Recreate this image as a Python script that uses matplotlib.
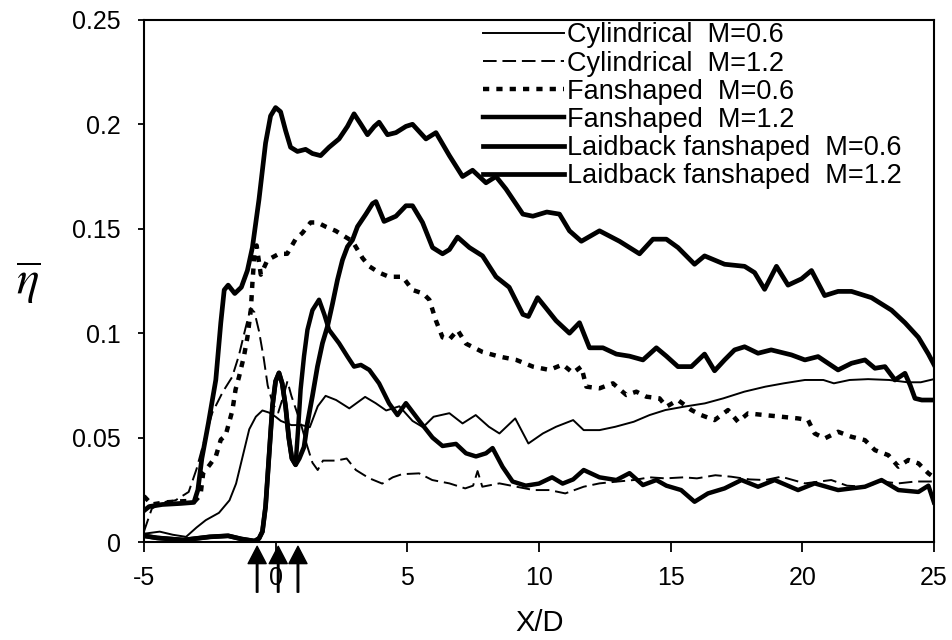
import matplotlib

matplotlib.use("Agg")
import matplotlib.pyplot as plt
import matplotlib.transforms as mtransforms

# (X/D, eta) pairs
cyl_06 = [(-5, 0.004), (-4.4, 0.005), (-3.9, 0.0035), (-3.4, 0.0025), (-3.0, 0.007),
          (-2.65, 0.0105), (-2.15, 0.014), (-1.75, 0.020), (-1.5, 0.028), (-1.25, 0.041),
          (-1.0, 0.054), (-0.75, 0.060), (-0.5, 0.063), (-0.25, 0.062), (0.0, 0.060),
          (0.2, 0.058), (0.6, 0.056), (1.0, 0.056), (1.3, 0.055), (1.6, 0.065),
          (1.9, 0.070), (2.3, 0.068), (2.8, 0.064), (3.4, 0.0695), (3.8, 0.0665),
          (4.2, 0.063), (4.7, 0.065), (5.2, 0.058), (5.6, 0.055), (6.0, 0.060),
          (6.6, 0.0617), (7.1, 0.0568), (7.6, 0.0608), (8.1, 0.0552), (8.5, 0.052),
          (9.1, 0.0592), (9.6, 0.0472), (10.15, 0.052), (10.65, 0.0552), (11.3, 0.0584),
          (11.7, 0.0536), (12.3, 0.0536), (12.9, 0.0552), (13.6, 0.0576), (14.2, 0.0608),
          (14.8, 0.0632), (15.5, 0.0648), (16.3, 0.0664), (17.0, 0.0688), (17.8, 0.072),
          (18.6, 0.0744), (19.3, 0.076), (20.1, 0.0776), (20.8, 0.0776), (21.2, 0.076),
          (21.8, 0.0776), (22.5, 0.078), (23.3, 0.0776), (24.0, 0.0765), (24.5, 0.0765),
          (25.0, 0.078)]

cyl_12 = [(-5, 0.005), (-4.7, 0.016), (-4.3, 0.019), (-3.8, 0.020), (-3.3, 0.024),
          (-3.0, 0.035), (-2.7, 0.049), (-2.4, 0.062), (-2.0, 0.072), (-1.65, 0.079),
          (-1.4, 0.089), (-1.15, 0.102), (-0.95, 0.112), (-0.8, 0.110), (-0.63, 0.101),
          (-0.45, 0.088), (-0.3, 0.075), (-0.1, 0.066), (0.1, 0.062), (0.3, 0.070),
          (0.45, 0.077), (0.6, 0.070), (0.95, 0.057), (1.2, 0.046), (1.4, 0.038),
          (1.6, 0.0345), (1.8, 0.039), (2.3, 0.039), (2.7, 0.040), (3.05, 0.0345),
          (3.55, 0.0306), (4.05, 0.028), (4.45, 0.031), (4.8, 0.0325), (5.45, 0.0329),
          (5.95, 0.0297), (6.6, 0.0281), (7.2, 0.0257), (7.5, 0.027), (7.67, 0.034),
          (7.85, 0.0265), (8.5, 0.0281), (9.15, 0.0265), (9.8, 0.0249), (10.4, 0.0249),
          (11.0, 0.0233), (11.7, 0.0265), (12.3, 0.0281), (13.0, 0.029), (13.6, 0.0297),
          (14.2, 0.031), (14.8, 0.0305), (15.5, 0.031), (16.0, 0.0305), (16.7, 0.032),
          (17.3, 0.0313), (18.0, 0.030), (18.6, 0.0297), (19.2, 0.0313), (20.1, 0.0281),
          (21.1, 0.0297), (21.7, 0.027), (22.4, 0.0265), (23.0, 0.029), (23.65, 0.0281),
          (24.3, 0.029), (25.0, 0.029)]

fan_06 = [(-5, 0.022), (-4.7, 0.018), (-4.2, 0.019), (-3.6, 0.0195), (-3.05, 0.0198),
          (-2.85, 0.0225), (-2.75, 0.033), (-2.5, 0.037), (-2.27, 0.041), (-2.08, 0.049),
          (-1.9, 0.051), (-1.77, 0.057), (-1.64, 0.063), (-1.52, 0.073), (-1.39, 0.079),
          (-1.2, 0.089), (-1.07, 0.098), (-0.94, 0.111), (-0.88, 0.124), (-0.8, 0.138),
          (-0.72, 0.142), (-0.56, 0.128), (-0.31, 0.135), (0.13, 0.138), (0.44, 0.138),
          (0.76, 0.145), (1.02, 0.148), (1.33, 0.153), (1.59, 0.153), (1.9, 0.151),
          (2.28, 0.149), (2.66, 0.146), (2.92, 0.144), (3.3, 0.136), (3.56, 0.132),
          (3.93, 0.129), (4.31, 0.127), (4.82, 0.127), (5.2, 0.1207), (5.6, 0.119),
          (5.84, 0.116), (6.09, 0.106), (6.34, 0.098), (6.6, 0.097), (6.91, 0.1015),
          (7.23, 0.095), (7.86, 0.091), (8.5, 0.0888), (9.14, 0.0872), (9.77, 0.084),
          (10.4, 0.0824), (10.9, 0.085), (11.29, 0.081), (11.61, 0.084), (11.8, 0.0744),
          (12.3, 0.0736), (12.81, 0.076), (13.32, 0.0704), (13.7, 0.072), (14.08, 0.0696),
          (14.58, 0.0688), (14.84, 0.0648), (15.28, 0.068), (15.79, 0.0632), (16.16, 0.0608),
          (16.67, 0.0584), (17.18, 0.0632), (17.56, 0.0576), (17.94, 0.0616), (18.57, 0.0608),
          (19.21, 0.060), (19.84, 0.0592), (20.22, 0.0584), (20.47, 0.052), (20.85, 0.0496),
          (21.36, 0.0528), (21.87, 0.0504), (22.38, 0.0488), (22.76, 0.044), (23.27, 0.0416),
          (23.65, 0.0361), (24.03, 0.0393), (24.41, 0.0377), (24.79, 0.0329), (25.0, 0.031)]

fan_12 = [(-5, 0.003), (-4.5, 0.002), (-4.0, 0.0015), (-3.5, 0.001), (-2.5, 0.0025),
          (-1.8, 0.003), (-1.3, 0.0015), (-0.8, 0.0005), (-0.63, 0.0017), (-0.5, 0.005),
          (-0.38, 0.017), (-0.25, 0.041), (-0.12, 0.065), (0.0, 0.077), (0.13, 0.081),
          (0.25, 0.076), (0.38, 0.065), (0.5, 0.050), (0.62, 0.040), (0.76, 0.037),
          (0.86, 0.055), (0.95, 0.073), (1.08, 0.089), (1.21, 0.1016), (1.4, 0.111),
          (1.65, 0.116), (1.85, 0.109), (2.03, 0.1016), (2.41, 0.0952), (2.73, 0.0888),
          (2.98, 0.084), (3.24, 0.0848), (3.56, 0.0824), (3.93, 0.076), (4.31, 0.0664),
          (4.63, 0.0608), (4.95, 0.0665), (5.46, 0.058), (5.96, 0.050), (6.34, 0.046),
          (6.85, 0.047), (7.23, 0.0425), (7.61, 0.041), (7.99, 0.0425), (8.24, 0.045),
          (8.62, 0.036), (9.0, 0.029), (9.5, 0.027), (10.0, 0.028), (10.5, 0.031),
          (10.9, 0.028), (11.3, 0.030), (11.7, 0.0345), (12.3, 0.031), (12.94, 0.0297),
          (13.44, 0.033), (13.95, 0.0273), (14.46, 0.0297), (14.84, 0.027), (15.4, 0.0249),
          (15.91, 0.0193), (16.42, 0.0233), (17.05, 0.0257), (17.69, 0.0297), (18.32, 0.0265),
          (18.95, 0.0297), (19.84, 0.0249), (20.47, 0.0281), (21.36, 0.0249), (22.38, 0.0265),
          (23.01, 0.0297), (23.65, 0.0249), (24.41, 0.024), (24.79, 0.027), (25.0, 0.019)]

laid_06 = [(-5, 0.015), (-4.8, 0.017), (-4.3, 0.018), (-3.6, 0.0185), (-3.1, 0.019),
           (-2.95, 0.025), (-2.8, 0.040), (-2.55, 0.057), (-2.27, 0.0776), (-2.08, 0.105),
           (-1.95, 0.1207), (-1.8, 0.123), (-1.55, 0.119), (-1.3, 0.122), (-1.07, 0.130),
           (-0.88, 0.141), (-0.63, 0.164), (-0.38, 0.191), (-0.19, 0.204), (0.0, 0.208),
           (0.19, 0.206), (0.38, 0.197), (0.57, 0.189), (0.83, 0.187), (1.14, 0.188),
           (1.4, 0.186), (1.71, 0.185), (2.03, 0.189), (2.41, 0.193), (2.73, 0.199),
           (2.98, 0.205), (3.24, 0.200), (3.49, 0.195), (3.75, 0.199), (3.93, 0.201),
           (4.25, 0.195), (4.57, 0.196), (4.95, 0.199), (5.2, 0.200), (5.71, 0.193),
           (6.09, 0.196), (6.6, 0.185), (7.1, 0.175), (7.48, 0.178), (7.99, 0.172),
           (8.37, 0.175), (8.75, 0.169), (9.39, 0.157), (9.77, 0.156), (10.3, 0.158),
           (10.78, 0.157), (11.16, 0.149), (11.61, 0.144), (12.3, 0.149), (13.06, 0.144),
           (13.82, 0.138), (14.33, 0.145), (14.84, 0.145), (15.28, 0.141), (15.91, 0.133),
           (16.29, 0.137), (17.05, 0.133), (17.81, 0.132), (18.19, 0.129), (18.57, 0.121),
           (19.02, 0.132), (19.46, 0.123), (19.97, 0.126), (20.35, 0.130), (20.85, 0.118),
           (21.36, 0.120), (21.87, 0.120), (22.63, 0.117), (23.39, 0.111), (23.9, 0.105),
           (24.41, 0.098), (24.79, 0.090), (25.0, 0.085)]

laid_12 = [(-5, 0.003), (-4.5, 0.002), (-4.0, 0.0015), (-3.5, 0.001), (-2.5, 0.0025),
           (-1.8, 0.003), (-1.3, 0.0015), (-0.8, 0.0005), (-0.63, 0.0017), (-0.5, 0.005),
           (-0.38, 0.017), (-0.25, 0.041), (-0.12, 0.065), (0.0, 0.077), (0.13, 0.081),
           (0.25, 0.076), (0.38, 0.065), (0.5, 0.050), (0.62, 0.040), (0.76, 0.037),
           (0.9, 0.040), (1.08, 0.0455), (1.21, 0.057), (1.4, 0.070), (1.59, 0.084),
           (1.78, 0.0952), (1.97, 0.1032), (2.16, 0.114), (2.35, 0.1255), (2.54, 0.135),
           (2.73, 0.1414), (2.92, 0.1446), (3.11, 0.151), (3.43, 0.157), (3.68, 0.162),
           (3.81, 0.163), (4.12, 0.1535), (4.57, 0.156), (4.95, 0.161), (5.2, 0.161),
           (5.58, 0.153), (5.96, 0.141), (6.34, 0.138), (6.6, 0.140), (6.91, 0.146),
           (7.36, 0.141), (7.86, 0.137), (8.37, 0.127), (8.87, 0.122), (9.39, 0.109),
           (9.6, 0.108), (9.95, 0.117), (10.27, 0.112), (10.65, 0.106), (11.16, 0.100),
           (11.54, 0.105), (11.92, 0.093), (12.43, 0.093), (12.94, 0.090), (13.44, 0.089),
           (13.95, 0.0872), (14.46, 0.093), (14.84, 0.089), (15.28, 0.084), (15.79, 0.084),
           (16.29, 0.090), (16.67, 0.082), (17.05, 0.0872), (17.43, 0.092), (17.81, 0.0935),
           (18.32, 0.0904), (18.82, 0.092), (19.59, 0.0896), (20.1, 0.0872), (20.6, 0.0888),
           (20.98, 0.0856), (21.36, 0.0824), (21.87, 0.0856), (22.38, 0.0872), (22.76, 0.0832),
           (23.14, 0.084), (23.52, 0.0776), (23.9, 0.0808), (24.1, 0.075), (24.28, 0.0688),
           (24.54, 0.068), (25.0, 0.068)]

labels = ["Cylindrical  M=0.6", "Cylindrical  M=1.2", "Fanshaped  M=0.6",
          "Fanshaped  M=1.2", "Laidback fanshaped  M=0.6", "Laidback fanshaped  M=1.2"]

# hole positions marked with arrows under the axis
hole_marks = [-0.7, 0.1, 0.85]

x_ticks = [-5, 0, 5, 10, 15, 20, 25]
y_ticks = [0, 0.05, 0.1, 0.15, 0.2, 0.25]
y_tick_labels = ["0", "0.05", "0.1", "0.15", "0.2", "0.25"]


def main():
    plt.rcParams["font.family"] = ["Liberation Sans", "DejaVu Sans"]
    plt.rcParams["mathtext.fontset"] = "stix"

    fig = plt.figure(figsize=(9.53, 6.4), dpi=100)
    ax = fig.add_axes([0.151, 0.153, 0.829, 0.816])

    series = [cyl_06, cyl_12, fan_06, fan_12, laid_06, laid_12]
    styles = [
        dict(lw=1.4, ls="-"),
        dict(lw=1.4, ls=(0, (7, 3))),
        dict(lw=3.2, ls=(0, (1.4, 1.6))),
        dict(lw=3.2, ls="-"),
        dict(lw=3.4, ls="-"),
        dict(lw=3.4, ls="-"),
    ]
    for data, label, st in zip(series, labels, styles):
        xs = [p[0] for p in data]
        ys = [p[1] for p in data]
        ax.plot(xs, ys, color="black", label=label, solid_joinstyle="round",
                dash_capstyle="butt", **st)

    ax.set_xlim(-5, 25)
    ax.set_ylim(0, 0.25)
    ax.set_xticks(x_ticks)
    ax.set_xticklabels([str(t) for t in x_ticks])
    ax.set_yticks(y_ticks)
    ax.set_yticklabels(y_tick_labels)
    ax.tick_params(axis="x", direction="out", length=7, width=1.3, pad=10, labelsize=18)
    ax.tick_params(axis="y", direction="out", length=4.5, width=1.3, pad=12, labelsize=18)
    for sp in ax.spines.values():
        sp.set_linewidth(1.5)

    # arrows marking the hole locations
    trans = mtransforms.blended_transform_factory(ax.transData, ax.transAxes)
    for xm in hole_marks:
        ax.annotate("", xy=(xm, -0.008), xycoords=trans, xytext=(xm, -0.096),
                    textcoords=trans,
                    arrowprops=dict(width=1.1, headwidth=13, headlength=12.5,
                                    shrink=0, color="black"),
                    annotation_clip=False)

    ax.set_xlabel("X/D", fontsize=21)
    ax.xaxis.set_label_coords(0.501, -0.128)
    fig.text(28 / 953, 1 - 283 / 640, r"$\overline{\eta}$", ha="center", va="center",
             fontsize=34)

    ax.legend(loc="upper left", bbox_to_anchor=(0.429, 0.995), frameon=False,
              fontsize=19.5, handlelength=3.0, handletextpad=0.1, labelspacing=0.08,
              borderpad=0, borderaxespad=0)

    fig.savefig("out.png", dpi=100)


if __name__ == "__main__":
    main()
